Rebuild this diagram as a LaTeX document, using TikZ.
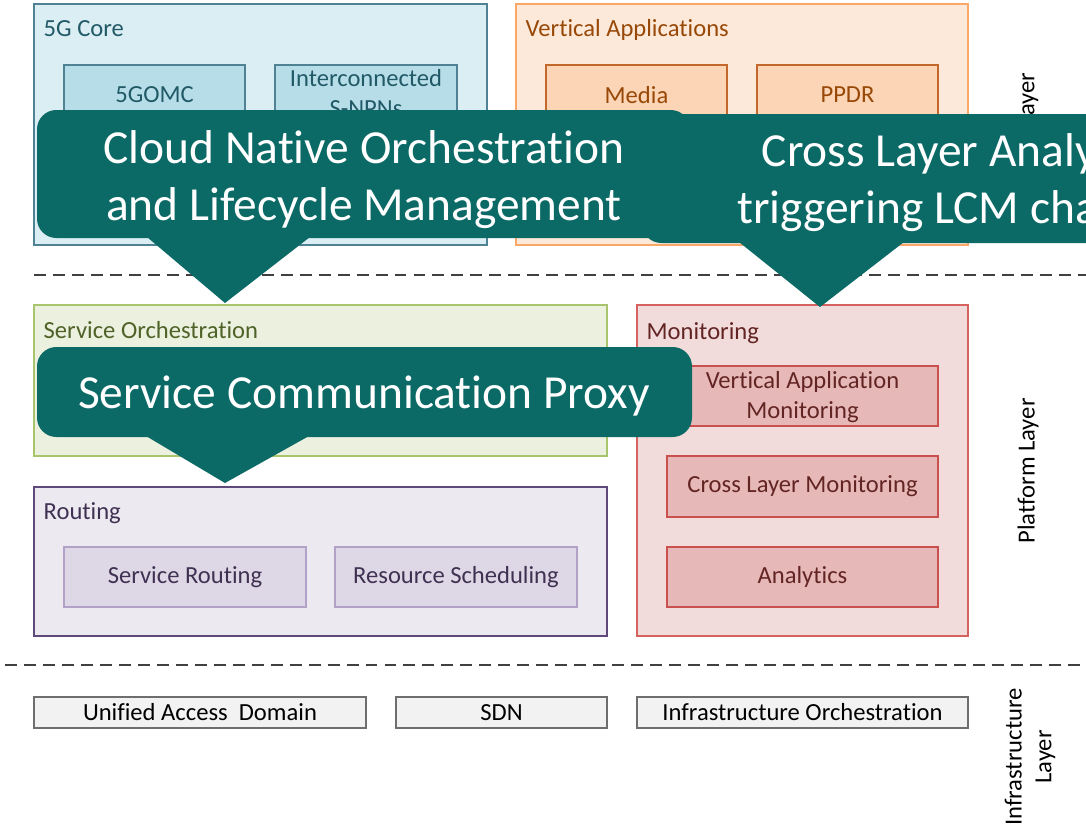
\documentclass[tikz,border=0pt]{standalone}
\usepackage{fontspec}
\setmainfont{Carlito}[Ligatures=NoCommon]
\usepackage{tikz}

% colours of the blocks
\definecolor{callcol}{HTML}{0C6A66}
\definecolor{corefill}{HTML}{DAEEF3}
\definecolor{coreline}{HTML}{4F8393}
\definecolor{coreinner}{HTML}{B7DEE8}
\definecolor{coretext}{HTML}{215967}
\definecolor{vertfill}{HTML}{FDE9D9}
\definecolor{vertline}{HTML}{F9A868}
\definecolor{vertinner}{HTML}{FBD5B5}
\definecolor{vertinline}{HTML}{C4672A}
\definecolor{verttext}{HTML}{984807}
\definecolor{orchfill}{HTML}{EBF1DE}
\definecolor{orchline}{HTML}{A8C56E}
\definecolor{orchtext}{HTML}{4F6228}
\definecolor{routfill}{HTML}{ECE9F1}
\definecolor{routline}{HTML}{5F497A}
\definecolor{routinner}{HTML}{DED8E6}
\definecolor{routinline}{HTML}{B3A2C7}
\definecolor{routtext}{HTML}{403152}
\definecolor{monfill}{HTML}{F2DCDB}
\definecolor{monline}{HTML}{D5625F}
\definecolor{moninner}{HTML}{E6B9B8}
\definecolor{moninline}{HTML}{C9504D}
\definecolor{montext}{HTML}{632523}
\definecolor{infrafill}{HTML}{F2F2F2}
\definecolor{infraline}{HTML}{6E6E6E}

\begin{document}
\begin{tikzpicture}[x=0.02cm, y=-0.02cm, line width=0.8pt,
    lbl/.style={font=\fontsize{14}{17}\selectfont, inner sep=0pt},
    boxtitle/.style={lbl, anchor=base west},
    layer/.style={lbl, rotate=90, align=center},
    calltext/.style={text=white, align=center, inner sep=0pt,
      font=\fontsize{27}{32.5}\selectfont}]

        \useasboundingbox (0,0) rectangle (1086,832);
        \clip (0,0) rectangle (1086,832);
        \fill[white] (0,0) rectangle (1086,832);

        % 5G core
        \draw[fill=corefill, draw=coreline] (34,4) rectangle (487,245);
        \node[boxtitle, coretext] (core) at (43,36) {5G Core};
        \draw[fill=coreinner, draw=coreline] (64,65) rectangle (245,125);
        \node[lbl, coretext] (gomc) at (154.5,95) {5GOMC};
        \draw[fill=coreinner, draw=coreline] (275,65) rectangle (457,125);
        \node[lbl, coretext, align=center] (snpn) at (366,93) {Interconnected\\S-NPNs};

        % verticals
        \draw[fill=vertfill, draw=vertline] (516,4) rectangle (968,245);
        \node[boxtitle, verttext] (vert) at (525,36) {Vertical Applications};
        \draw[fill=vertinner, draw=vertinline] (546,65) rectangle (727,125);
        \node[lbl, verttext] (media) at (636.5,95) {Media};
        \draw[fill=vertinner, draw=vertinline] (757,65) rectangle (938,125);
        \node[lbl, verttext] (ppdr) at (847.5,95) {PPDR};

        \node[layer, anchor=east] (svcl) at (1028,72) {Service Layer};

        % separateurs
        \draw[draw=black!75, dash pattern=on 6.8pt off 4pt] (34,275) -- (1086,275);
        \draw[draw=black!75, dash pattern=on 6.8pt off 4pt] (5,665) -- (1086,665);

        % orchestration + routing
        \draw[fill=orchfill, draw=orchline] (34,305) rectangle (607,456);
        \node[boxtitle, orchtext] (orch) at (43,338) {Service Orchestration};
        \draw[fill=routfill, draw=routline] (34,487) rectangle (607,636);
        \node[boxtitle, routtext] (rout) at (43,519) {Routing};
        \draw[fill=routinner, draw=routinline] (64,547) rectangle (306,607);
        \node[lbl, routtext] (srout) at (185,577) {Service Routing};
        \draw[fill=routinner, draw=routinline] (335,547) rectangle (577,607);
        \node[lbl, routtext] (rsched) at (456,577) {Resource Scheduling};

        % monitoring
        \draw[fill=monfill, draw=monline] (637,305) rectangle (968,636);
        \node[boxtitle, montext] (mon) at (646,339) {Monitoring};
        \draw[fill=moninner, draw=moninline] (667,366) rectangle (938,426);
        \node[lbl, montext, align=center] (vam) at (802.5,397) {Vertical Application\\Monitoring};
        \draw[fill=moninner, draw=moninline] (667,456) rectangle (938,517);
        \node[lbl, montext] (clm) at (802.5,486.5) {Cross Layer Monitoring};
        \draw[fill=moninner, draw=moninline] (667,547) rectangle (938,607);
        \node[lbl, montext] (ana) at (802.5,577) {Analytics};

        \node[layer] (platl) at (1028,471) {Platform Layer};

        % infrastructure
        \draw[fill=infrafill, draw=infraline] (34,697) rectangle (366,728);
        \node[lbl] (uad) at (200,712.5) {Unified Access\ \ Domain};
        \draw[fill=infrafill, draw=infraline] (396,697) rectangle (607,728);
        \node[lbl] (sdn) at (501.5,712.5) {SDN};
        \draw[fill=infrafill, draw=infraline] (637,697) rectangle (968,728);
        \node[lbl] (info) at (802.5,712.5) {Infrastructure Orchestration};

        \node[layer] (infl) at (1030,757) {Infrastructure\\Layer};

        % bulles
        \fill[callcol, rounded corners=11pt] (37,110) rectangle (690,238);
        \fill[callcol] (147,237) -- (310,237) -- (225,303) -- cycle;
        \node[calltext] (cloud) at (364,180) {Cloud Native Orchestration\\and Lifecycle Management};

        \fill[callcol, rounded corners=11pt] (642,114) rectangle (1290,243);
        \fill[callcol] (739,242) -- (904,242) -- (820,307) -- cycle;
        \node[calltext] (cross) at (962,183) {Cross Layer Analytics\\triggering LCM changes};

        \fill[callcol, rounded corners=11pt] (37,347) rectangle (692,437);
        \fill[callcol] (146,436) -- (309,436) -- (225,483) -- cycle;
        \node[calltext] (scp) at (364,396) {Service Communication Proxy};

  \end{tikzpicture}
\end{document}
